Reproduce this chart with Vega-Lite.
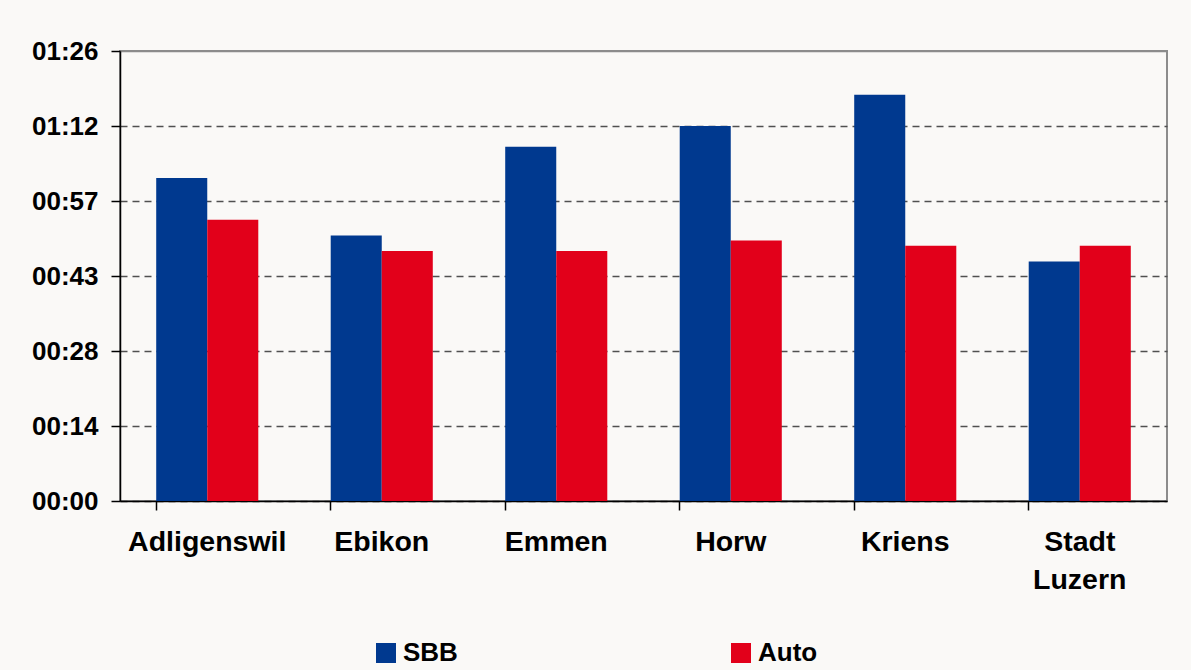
{
  "$schema": "https://vega.github.io/schema/vega-lite/v6.json",
  "width": 1047,
  "height": 450,
  "autosize": {"type": "none"},
  "padding": {"left": 120, "top": 51, "right": 24, "bottom": 169},
  "background": "#faf9f7",
  "data": {
    "values": [
      {"city": "Adligenswil", "mode": "SBB", "minutes": 62},
      {"city": "Adligenswil", "mode": "Auto", "minutes": 54},
      {"city": "Ebikon", "mode": "SBB", "minutes": 51},
      {"city": "Ebikon", "mode": "Auto", "minutes": 48},
      {"city": "Emmen", "mode": "SBB", "minutes": 68},
      {"city": "Emmen", "mode": "Auto", "minutes": 48},
      {"city": "Horw", "mode": "SBB", "minutes": 72},
      {"city": "Horw", "mode": "Auto", "minutes": 50},
      {"city": "Kriens", "mode": "SBB", "minutes": 78},
      {"city": "Kriens", "mode": "Auto", "minutes": 49},
      {"city": "Stadt Luzern", "mode": "SBB", "minutes": 46},
      {"city": "Stadt Luzern", "mode": "Auto", "minutes": 49}
    ]
  },
  "config": {
    "view": {"stroke": "#8c8c8c", "strokeWidth": 2, "fill": "#faf9f7"},
    "font": "Liberation Sans"
  },
  "mark": {"type": "bar"},
  "encoding": {
    "x": {
      "field": "city",
      "type": "nominal",
      "sort": null,
      "scale": {"paddingInner": 0.415, "paddingOuter": 0.2075},
      "axis": {
        "title": null,
        "labelAngle": 0,
        "labelFont": "Liberation Sans",
        "labelFontWeight": "bold",
        "labelFontSize": 28.5,
        "labelColor": "#000000",
        "labelPadding": 17,
        "labelLineHeight": 38,
        "labelBaseline": "top",
        "labelExpr": "datum.label == 'Stadt Luzern' ? ['Stadt', 'Luzern'] : datum.label",
        "bandPosition": 0,
        "ticks": true,
        "tickSize": 9,
        "tickColor": "#000000",
        "tickWidth": 1.5,
        "domainColor": "#000000",
        "domainWidth": 1.5,
        "grid": false
      }
    },
    "xOffset": {"field": "mode", "type": "nominal", "sort": ["SBB", "Auto"]},
    "y": {
      "field": "minutes",
      "type": "quantitative",
      "scale": {"domain": [0, 86.4], "nice": false},
      "axis": {
        "title": null,
        "values": [0, 14.4, 28.8, 43.2, 57.6, 72, 86.4],
        "labelExpr": "(floor(datum.value/60) < 10 ? '0' : '') + floor(datum.value/60) + ':' + (floor(datum.value%60 + 0.0001) < 10 ? '0' : '') + floor(datum.value%60 + 0.0001)",
        "labelFont": "Liberation Sans",
        "labelFontWeight": "bold",
        "labelFontSize": 26,
        "labelColor": "#000000",
        "labelPadding": 13,
        "tickSize": 9,
        "tickColor": "#000000",
        "tickWidth": 1.5,
        "domainColor": "#000000",
        "domainWidth": 1.5,
        "grid": true,
        "gridColor": {"condition": {"test": "datum.value > 80", "value": "#8c8c8c"}, "value": "#505050"},
        "gridDash": {"condition": {"test": "datum.value > 80", "value": []}, "value": [7, 5]},
        "gridWidth": 1.3
      }
    },
    "color": {
      "field": "mode",
      "type": "nominal",
      "sort": ["SBB", "Auto"],
      "scale": {"domain": ["SBB", "Auto"], "range": ["#00398F", "#E2001A"]},
      "legend": {
        "title": null,
        "orient": "none",
        "legendX": 253,
        "legendY": 589,
        "direction": "horizontal",
        "columns": 2,
        "columnPadding": 270,
        "symbolType": "square",
        "symbolSize": 400,
        "symbolStrokeWidth": 0,
        "labelFont": "Liberation Sans",
        "labelFontWeight": "bold",
        "labelFontSize": 26,
        "labelColor": "#000000",
        "labelOffset": 4
      }
    }
  }
}
